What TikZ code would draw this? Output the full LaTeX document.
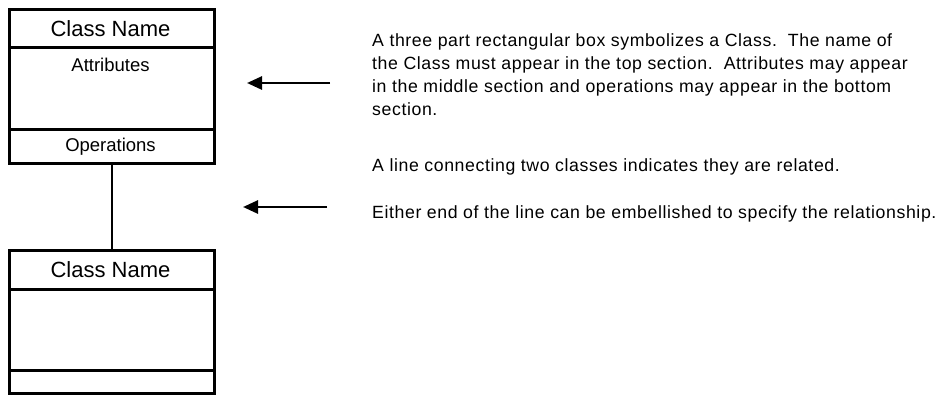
\documentclass[tikz,border=0pt]{standalone}
\usepackage{fontspec}
\setmainfont{Liberation Sans}
\newfontfamily\descfont{Liberation Sans}[LetterSpace=3.4]
\usetikzlibrary{arrows.meta}
\begin{document}
\begin{tikzpicture}[x=1pt,y=-1pt,
  comp/.style={draw,line width=2.7pt,rectangle,inner sep=0pt,minimum width=205pt,anchor=north west},
  nametext/.style={font=\fontsize{22}{26}\selectfont,anchor=base,inner sep=0pt},
  smalltext/.style={font=\fontsize{18.5}{22}\selectfont,anchor=base,inner sep=0pt},
  desc/.style={font=\descfont\fontsize{17.7}{23}\selectfont,anchor=base west,inner sep=0pt,align=left},
  pointer/.style={line width=2.7pt,-{Triangle[length=15pt,width=13pt]}}]
\useasboundingbox (0,0) rectangle (943,394);
% upper class
\node[comp,minimum height=38pt] (c1name) at (8,8) {};
\node[comp,minimum height=82pt] (c1attr) at (8,46) {};
\node[comp,minimum height=34pt] (c1ops) at (8,128) {};
\node[nametext] (t1name) at (110.5,36) {Class Name};
\node[smalltext] (t1attr) at (110.5,71) {Attributes};
\node[smalltext] (t1ops) at (110.5,151) {Operations};
% lower class
\node[comp,minimum height=39pt] (c2name) at (8,249) {};
\node[comp,minimum height=81pt] (c2attr) at (8,288) {};
\node[comp,minimum height=23pt] (c2ops) at (8,369) {};
\node[nametext] (t2name) at (110.5,277) {Class Name};
% relation line
\draw[line width=2.7pt] (c1ops.south) -- (c2name.north);
% descriptions (anchor is the baseline of the last line)
\node[desc] (d1) at (372,115) {A three part rectangular box symbolizes a Class.\ \ The name of\\the Class must appear in the top section.\ \ Attributes may appear\\in the middle section and operations may appear in the bottom\\section.};
\node[desc] (d2) at (372,171) {A line connecting two classes indicates they are related.};
\node[desc] (d3) at (372,218) {Either end of the line can be embellished to specify the relationship.};
% arrows
\coordinate (a1s) at (330,83);
\coordinate (a1e) at (247,83);
\coordinate (a2s) at (327,207);
\coordinate (a2e) at (243,207);
\draw[pointer] (a1s) -- (a1e);
\draw[pointer] (a2s) -- (a2e);
\end{tikzpicture}
\end{document}
